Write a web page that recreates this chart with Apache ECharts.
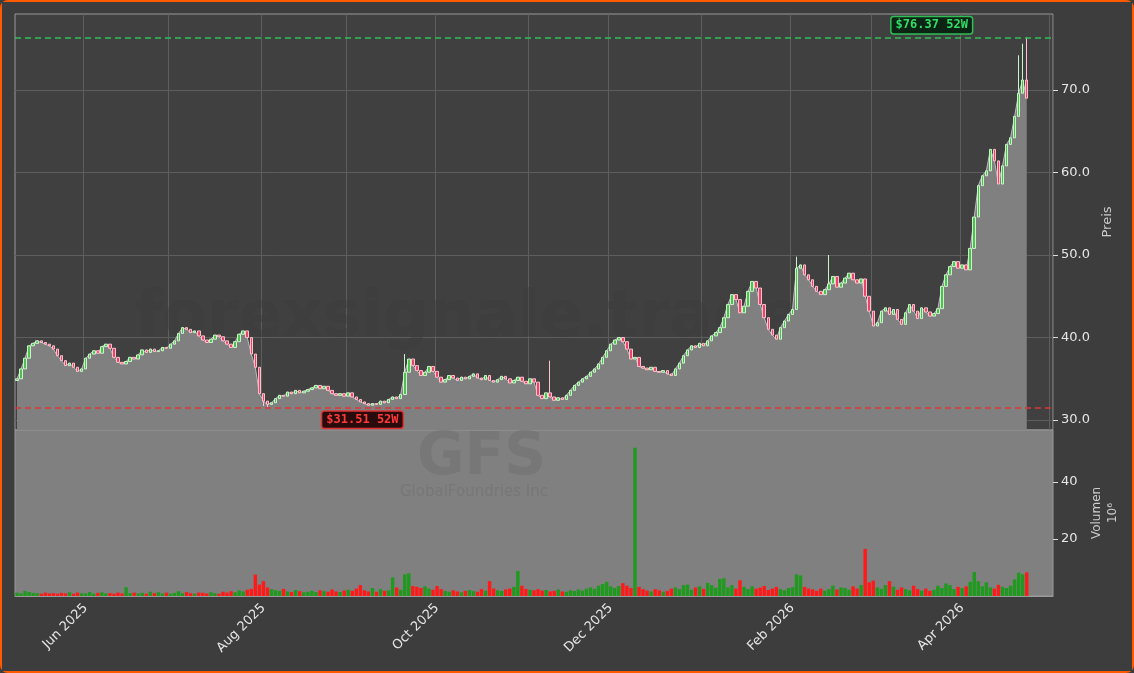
<!DOCTYPE html>
<html>
<head>
<meta charset="utf-8">
<script src="https://cdn.jsdelivr.net/npm/echarts@6/dist/echarts.min.js"></script>
<style>
html,body{margin:0;padding:0;background:#3d3d3d;}
#chart{width:1130px;height:669px;border:2px solid #ff5a00;border-radius:8px;box-sizing:content-box;}
</style>
</head>
<body>
<div id="chart"></div>
<script>
// daily closes, GFS, May 2025 - May 2026
var closes = [
  35.0,36.2,37.5,39.0,39.3,39.6,39.4,39.2,39.0,
  38.6,37.8,37.2,36.6,36.9,36.4,35.9,
  36.2,37.5,38.0,38.4,38.1,38.9,39.2,38.7,
  37.6,37.0,36.8,37.1,37.6,37.4,
  37.9,38.5,38.2,38.6,38.3,38.4,38.8,
  38.7,39.2,39.6,40.5,41.2,
  41.0,40.6,40.8,40.2,39.7,39.4,39.8,
  40.3,40.1,39.6,39.2,38.8,39.5,40.4,40.8,
  40.0,38.0,36.4,33.2,32.3,31.9,
  32.1,32.6,33.0,32.9,33.4,33.2,33.6,33.3,33.5,33.7,
  33.9,34.2,33.8,34.1,33.6,33.2,33.0,
  33.2,32.9,33.3,32.8,32.5,32.2,32.0,
  31.8,32.0,31.9,32.3,32.1,32.5,32.8,32.6,33.1,
  35.8,37.4,36.6,36.0,35.4,
  35.8,36.5,35.9,35.2,34.6,34.9,35.4,35.1,34.8,35.2,35.0,
  35.3,35.6,35.1,34.9,35.4,34.8,34.6,
  34.9,35.3,35.0,34.5,34.8,35.2,34.7,34.4,35.0,34.6,33.0,
  32.6,33.3,32.8,32.4,32.7,32.5,33.0,33.6,34.2,
  34.6,35.0,35.3,35.8,36.2,36.8,37.6,38.4,39.2,39.7,40.0,
  39.5,38.6,37.4,37.6,36.5,36.3,36.1,36.4,35.9,35.8,36.0,35.6,35.4,36.2,
  36.9,37.8,38.5,39.0,38.8,39.3,39.0,39.6,40.2,40.6,41.2,
  42.4,44.0,45.2,44.6,43.0,43.8,45.6,46.8,46.0,
  44.0,42.4,41.0,40.3,39.8,41.2,42.0,42.8,43.4,48.4,
  48.8,47.6,47.0,46.2,45.6,45.2,45.8,46.5,47.4,46.1,
  46.6,47.2,47.8,47.0,46.6,47.1,45.0,43.2,41.4,
  41.8,43.2,43.6,42.8,43.4,42.2,41.6,43.0,44.0,
  43.2,42.3,43.6,43.1,42.6,42.9,43.5,46.2,47.6,
  48.6,49.2,48.4,48.8,48.2,50.8,54.6,
  58.4,59.6,60.2,62.8,61.4,58.6,
  60.8,63.4,64.2,66.8,69.6,71.2,69.0
];
// volume in millions
var volumes = [
  1.2,0.9,1.8,1.4,1.1,1.0,0.8,1.2,0.9,
  1.0,0.8,1.1,0.9,1.3,0.8,1.2,
  1.0,0.9,1.4,0.8,1.1,1.3,0.9,1.0,
  0.8,1.2,0.9,3.1,1.0,1.2,
  0.9,1.1,0.8,1.5,1.0,1.3,0.9,
  1.2,0.8,1.1,1.7,1.0,
  1.4,1.0,0.8,1.2,1.1,0.9,1.3,
  1.0,0.8,1.5,1.2,1.7,1.3,2.0,1.6,
  2.2,2.5,7.5,4.0,5.2,3.0,
  2.4,2.0,1.8,2.5,1.6,1.4,2.1,1.7,1.3,1.5,
  1.8,1.4,2.0,1.7,1.5,2.3,1.6,
  1.4,1.9,2.2,1.8,2.6,3.8,2.0,
  1.6,2.8,1.5,2.4,1.8,2.0,6.5,3.0,2.2,
  7.6,8.0,3.5,3.2,2.8,
  3.4,2.6,2.2,3.5,2.4,1.8,1.5,2.0,1.6,1.3,1.8,
  2.1,1.7,1.5,2.4,1.9,5.2,2.6,
  2.0,1.8,2.3,2.6,3.2,8.8,3.6,2.5,2.2,2.0,2.4,
  1.9,2.1,1.6,1.8,2.3,1.6,1.5,2.0,1.8,
  2.3,1.9,2.6,3.0,2.5,3.6,4.2,5.0,3.4,2.8,3.5,
  4.5,3.6,2.8,52.0,3.2,2.4,1.9,1.6,2.4,2.0,1.5,1.8,2.6,3.0,
  2.4,3.8,4.0,2.2,3.0,3.4,2.5,4.6,3.8,2.9,6.0,
  6.2,3.0,3.8,2.6,5.5,3.2,2.4,3.4,2.6,
  2.9,3.5,2.1,2.6,3.2,2.4,2.0,2.8,3.1,7.6,
  7.2,3.2,2.6,2.3,1.8,2.6,1.9,2.4,3.6,2.3,
  3.0,2.8,2.2,3.4,2.6,3.9,16.5,4.8,5.4,
  3.0,2.5,3.8,5.2,3.3,2.2,3.0,2.4,2.0,
  3.6,2.4,1.9,2.6,1.8,2.2,3.6,2.8,4.4,
  3.8,2.4,3.2,2.8,3.4,5.0,8.4,
  5.2,3.4,4.8,3.0,2.6,3.9,
  3.2,2.8,3.6,5.8,8.2,7.6,8.3
];
var firstOpen = 34.8;
// notable wick extremes by day index
var highSpikes = {248: 74.2, 249: 75.6, 250: 76.37, 193: 49.8, 201: 50.0, 96: 38.0, 132: 37.2};
var lowSpikes = {62: 31.51, 61: 31.7};
var hi52 = 76.37, lo52 = 31.51;
var priceTicks = [30, 40, 50, 60, 70];
var volTicks = [20, 40];
var monNames = ['Jan','Feb','Mar','Apr','May','Jun','Jul','Aug','Sep','Oct','Nov','Dec'];

// trading dates (weekdays), plus a few empty ones for the right margin
var dates = [];
var d = new Date(Date.UTC(2025, 4, 8));
while (dates.length < closes.length + 6) {
  var wd = d.getUTCDay();
  if (wd !== 0 && wd !== 6) dates.push(d.toISOString().slice(0, 10));
  d.setUTCDate(d.getUTCDate() + 1);
}
var monthStart = {};
for (var i = 0; i < dates.length; i++) {
  var m = dates[i].slice(0, 7);
  if (!(m in monthStart)) monthStart[m] = i;
}
function isMonthStart(idx) { return idx > 0 && monthStart[dates[idx].slice(0, 7)] === idx; }
function isLabel(idx) { return isMonthStart(idx) && (parseInt(dates[idx].slice(5, 7)) % 2 === 0); }

var candles = [], vols = [];
for (var i = 0; i < closes.length; i++) {
  var o = i === 0 ? firstOpen : closes[i - 1], c = closes[i];
  var h = Math.max(o, c), l = Math.min(o, c);
  if (highSpikes[i]) h = highSpikes[i];
  if (lowSpikes[i]) l = lowSpikes[i];
  candles.push([o, c, l, h]);
  vols.push({value: volumes[i], itemStyle: {color: c >= o ? '#1f9a1f' : '#ff1a1a'}});
}

var myChart = echarts.init(document.getElementById('chart'));
var option = {
  backgroundColor: '#3d3d3d',
  animation: false,
  graphic: [
    {type: 'text', left: 133, top: 285, z: 1, style: {text: 'forexsignale.trade', fontSize: 64, fontWeight: 'bold', fontFamily: 'DejaVu Sans', fill: 'rgba(60,60,60,0.45)'}},
    {type: 'text', left: 415, top: 428, z: 1, style: {text: 'GFS', fontSize: 58, fontWeight: 'bold', fontFamily: 'DejaVu Sans', fill: 'rgba(110,110,110,0.5)'}},
    {type: 'text', left: 398, top: 483, z: 1, style: {text: 'GlobalFoundries Inc', fontSize: 15, fontFamily: 'DejaVu Sans', fill: 'rgba(110,110,110,0.5)'}}
  ],
  grid: [
    {left: 13, right: 79, top: 12, height: 416, show: true, backgroundColor: '#404040', borderColor: '#9a9a9a', borderWidth: 1},
    {left: 13, right: 79, top: 428, height: 166, show: true, backgroundColor: '#808080', borderColor: '#9a9a9a', borderWidth: 1}
  ],
  xAxis: [
    {type: 'category', gridIndex: 0, data: dates, boundaryGap: true,
     axisLine: {show: false}, axisTick: {show: false}, axisLabel: {show: false},
     splitLine: {show: true, interval: function (idx) { return isMonthStart(idx); }, lineStyle: {color: '#5e5e5e', width: 1}}},
    {type: 'category', gridIndex: 1, data: dates, boundaryGap: true,
     axisLine: {lineStyle: {color: '#9a9a9a'}},
     axisTick: {interval: function (idx) { return isMonthStart(idx); }, length: 5, lineStyle: {color: '#dddddd'}},
     axisLabel: {interval: function (idx) { return isLabel(idx); }, rotate: 45, color: '#e6e6e6', fontSize: 13, fontFamily: 'DejaVu Sans', margin: 10,
       formatter: function (v) { return monNames[parseInt(v.slice(5, 7)) - 1] + ' ' + v.slice(0, 4); }},
     splitLine: {show: false}}
  ],
  yAxis: [
    {type: 'value', gridIndex: 0, position: 'right', min: 28.8, max: 79.2,
     name: 'Preis', nameLocation: 'middle', nameRotate: 90, nameGap: 42, nameTextStyle: {color: '#cccccc', fontSize: 13, fontFamily: 'DejaVu Sans'},
     axisLine: {show: false},
     axisTick: {show: true, customValues: priceTicks, length: 5, lineStyle: {color: '#dddddd'}},
     axisLabel: {customValues: priceTicks, color: '#e6e6e6', fontSize: 13, fontFamily: 'DejaVu Sans', margin: 8, formatter: function (v) { return v.toFixed(1); }},
     splitLine: {show: true, lineStyle: {color: '#5e5e5e'}}},
    {type: 'value', gridIndex: 1, position: 'right', min: 0, max: 58.2,
     name: 'Volumen\n10⁶', nameLocation: 'middle', nameRotate: 90, nameGap: 32, nameTextStyle: {color: '#cccccc', fontSize: 12, fontFamily: 'DejaVu Sans', lineHeight: 16},
     axisLine: {show: false},
     axisTick: {show: true, customValues: volTicks, length: 5, lineStyle: {color: '#dddddd'}},
     axisLabel: {customValues: volTicks, color: '#e6e6e6', fontSize: 13, fontFamily: 'DejaVu Sans', margin: 8},
     splitLine: {show: false}}
  ],
  series: [
    {type: 'line', xAxisIndex: 0, yAxisIndex: 0, data: closes, symbol: 'none', z: 2,
     lineStyle: {color: '#bdbdbd', width: 1}, areaStyle: {color: '#808080', opacity: 1, origin: 'start'}},
    {type: 'candlestick', xAxisIndex: 0, yAxisIndex: 0, data: candles, z: 3, barWidth: 3,
     itemStyle: {color: '#4fbf4f', color0: '#e8456a', borderColor: '#c8f5c8', borderColor0: '#ffc0cc', borderWidth: 1},
     markLine: {symbol: 'none', silent: true, label: {show: false},
       data: [
         {yAxis: hi52, lineStyle: {color: '#2fbf55', type: [6, 4], width: 1.5}},
         {yAxis: lo52, lineStyle: {color: '#e03535', type: [6, 4], width: 1.5}}
       ]},
     markPoint: {symbol: 'circle', symbolSize: 1,
       data: [
         {coord: [dates[250], hi52], itemStyle: {color: '#2fbf55'},
          label: {show: true, formatter: '$' + hi52.toFixed(2) + ' 52W', offset: [-95, -12], color: '#33dd66', fontWeight: 'bold', fontSize: 12, fontFamily: 'DejaVu Sans Mono',
            backgroundColor: '#0b2414', borderColor: '#2fbf55', borderWidth: 1.5, borderRadius: 2, padding: [2, 4]}},
         {coord: [dates[62], lo52], itemStyle: {color: '#e03535'},
          label: {show: true, formatter: '$' + lo52.toFixed(2) + ' 52W', offset: [95, 12], color: '#ff3a3a', fontWeight: 'bold', fontSize: 12, fontFamily: 'DejaVu Sans Mono',
            backgroundColor: '#2a0b0b', borderColor: '#e03535', borderWidth: 1.5, borderRadius: 2, padding: [2, 4]}}
       ]}},
    {type: 'bar', xAxisIndex: 1, yAxisIndex: 1, data: vols, barCategoryGap: '15%', z: 3}
  ]
};
myChart.setOption(option);
</script>
</body>
</html>
